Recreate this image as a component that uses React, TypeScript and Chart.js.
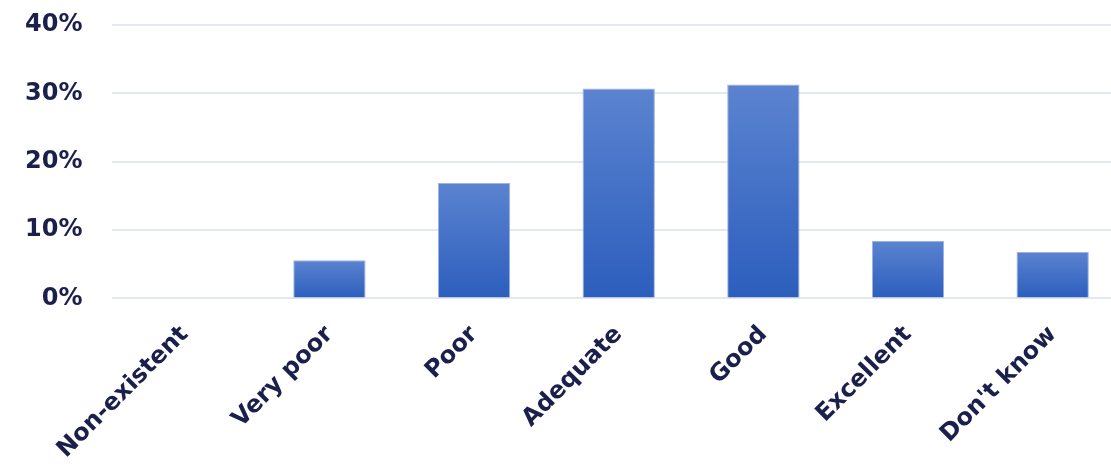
import React, { useEffect, useRef } from "react";
import { Chart, registerables } from "chart.js";

Chart.register(...registerables);

const categories = ["Non-existent", "Very poor", "Poor", "Adequate", "Good", "Excellent", "Don't know"];
const values = [0, 5.6, 16.9, 30.7, 31.3, 8.4, 6.8];
const yTicks = [0, 10, 20, 30, 40];

const TEXT = "#1b1f4b";
const FONT = "'DejaVu Sans', sans-serif";

export default function App() {
  const ref = useRef<HTMLCanvasElement>(null);
  useEffect(() => {
    const canvas = ref.current!;
    const chart = new Chart(canvas, {
      type: "bar",
      data: {
        labels: categories,
        datasets: [
          {
            data: values,
            backgroundColor: (ctx: any) => {
              const c = ctx.chart;
              const ys = c.scales?.y;
              if (!ys || ctx.type !== "data") return "#3a69c4";
              const top = ys.getPixelForValue(ctx.raw);
              const base = ys.getPixelForValue(0);
              if (!isFinite(top) || !isFinite(base) || top === base) return "#3a69c4";
              const g = c.ctx.createLinearGradient(0, top, 0, base);
              g.addColorStop(0, "#5b83d0");
              g.addColorStop(1, "#2c5ebd");
              return g;
            },
            borderColor: "#9ab2e4",
            borderWidth: 1,
            barPercentage: 0.5,
            categoryPercentage: 1,
          },
        ],
      },
      options: {
        responsive: false,
        animation: false,
        layout: { padding: { top: 25, right: 0, left: -5, bottom: -13 } },
        plugins: { legend: { display: false }, tooltip: { enabled: false } },
        scales: {
          x: {
            grid: { display: false },
            border: { display: false },
            ticks: {
              color: TEXT,
              font: { family: FONT, size: 24, weight: "bold" },
              minRotation: 45,
              maxRotation: 45,
              padding: 14,
            },
          },
          y: {
            min: 0,
            max: 40,
            afterBuildTicks: (axis: any) => {
              axis.ticks = yTicks.map((v) => ({ value: v }));
            },
            afterFit: (axis: any) => {
              axis.paddingTop = 14;
              axis.paddingBottom = 14;
            },
            grid: { color: "#e3e7ee", lineWidth: 2, drawTicks: false },
            border: { display: false },
            ticks: {
              color: TEXT,
              font: { family: FONT, size: 24, weight: "bold" },
              padding: 30,
              callback: (v: any) => `${v}%`,
            },
          },
        },
      },
    });
    return () => chart.destroy();
  }, []);
  return (
    <div style={{ position: "fixed", left: 0, top: 0, width: 1111, height: 465, overflow: "hidden", background: "#fff" }}>
      <canvas ref={ref} width={1125} height={465} style={{ width: 1125, height: 465, display: "block" }} />
    </div>
  );
}
